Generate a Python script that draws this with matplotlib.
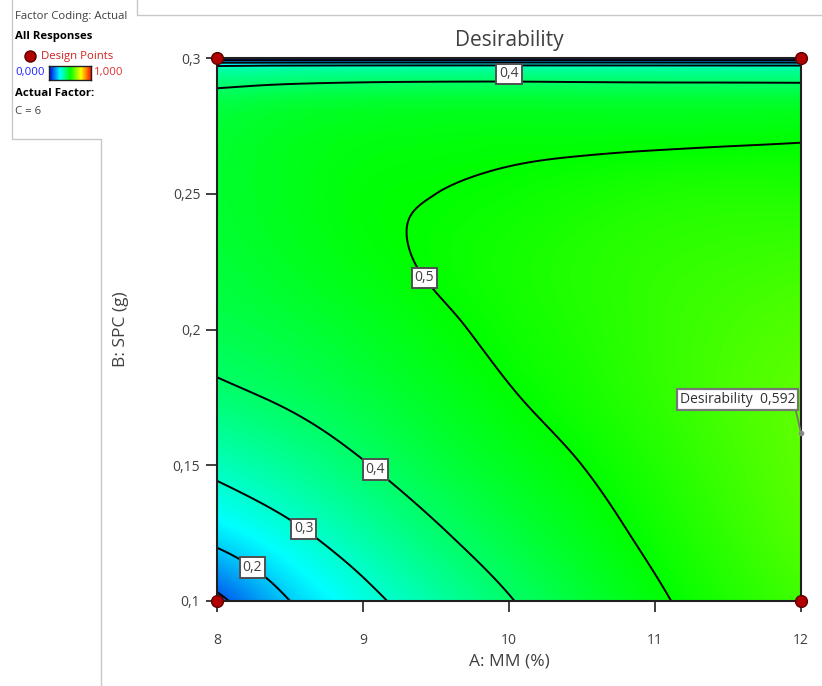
import numpy as np
import matplotlib.pyplot as plt
from matplotlib.colors import LinearSegmentedColormap
from matplotlib.lines import Line2D

plt.rcParams['font.family'] = ['Open Sans', 'DejaVu Sans']

# factor grid: A = MM (%), B = SPC (g), C held at 6
mm = [8, 8.5, 9, 9.5, 10, 10.5, 11, 11.5, 12]
spc = [0.10, 0.125, 0.15, 0.175, 0.20, 0.225, 0.25, 0.275, 0.30]

# desirability, one row per SPC value (before the top cut-off)
desir = [
    [0.080, 0.200, 0.278, 0.340, 0.396, 0.446, 0.491, 0.529, 0.561],  # 0.100
    [0.228, 0.285, 0.340, 0.392, 0.437, 0.476, 0.513, 0.548, 0.581],  # 0.125
    [0.318, 0.355, 0.396, 0.436, 0.470, 0.500, 0.530, 0.561, 0.590],  # 0.150
    [0.386, 0.409, 0.437, 0.467, 0.496, 0.520, 0.545, 0.570, 0.591],  # 0.175
    [0.424, 0.442, 0.465, 0.490, 0.512, 0.530, 0.549, 0.566, 0.580],  # 0.200
    [0.445, 0.466, 0.487, 0.505, 0.519, 0.533, 0.545, 0.553, 0.560],  # 0.225
    [0.455, 0.475, 0.493, 0.500, 0.508, 0.518, 0.527, 0.531, 0.530],  # 0.250
    [0.452, 0.470, 0.480, 0.484, 0.486, 0.485, 0.485, 0.487, 0.490],  # 0.275
    [0.445, 0.455, 0.460, 0.462, 0.462, 0.460, 0.458, 0.456, 0.452],  # 0.300
]

# close to SPC = 0.3 one response leaves its range, desirability drops to 0
spc_top = [0.27, 0.28, 0.285, 0.29, 0.294, 0.2962, 0.2972, 0.2983, 0.2992, 0.30]
top_factor = [1.0, 0.985, 0.95, 0.875, 0.80, 0.74, 0.66, 0.44, 0.22, 0.0]

levels = [0.1, 0.2, 0.3, 0.4, 0.5]
label_pos = [(8.25, 0.113), (8.60, 0.127), (9.09, 0.149), (9.42, 0.219), (10.0, 0.291)]

design_mm = [8, 12, 8, 12]
design_spc = [0.1, 0.1, 0.3, 0.3]

opt_mm, opt_spc, opt_desir = 12, 0.162, 0.592

xticks = [8, 9, 10, 11, 12]
yticks = [0.1, 0.15, 0.2, 0.25, 0.3]
ytick_labels = ['0,1', '0,15', '0,2', '0,25', '0,3']

txt = '#404040'
de_cmap = LinearSegmentedColormap.from_list(
    'de', [(0, '#0000e6'), (0.25, '#00ffff'), (0.5, '#00ff00'),
           (0.75, '#ffff00'), (1, '#ff0000')])


def catmull_rom(vals, t):
    # smooth curve through the grid values along the first axis
    vals = np.asarray(vals, float)
    pad = np.concatenate([2 * vals[:1] - vals[1:2], vals, 2 * vals[-1:] - vals[-2:-1]])
    i = np.clip(np.floor(t).astype(int), 0, len(vals) - 2)
    s = (t - i).reshape((-1,) + (1,) * (vals.ndim - 1))
    p0, p1, p2, p3 = pad[i], pad[i + 1], pad[i + 2], pad[i + 3]
    return 0.5 * (2 * p1 + (p2 - p0) * s
                  + (2 * p0 - 5 * p1 + 4 * p2 - p3) * s ** 2
                  + (3 * p1 - p0 - 3 * p2 + p3) * s ** 3)


nx, ny = len(mm), len(spc)
ty = np.linspace(0, ny - 1, 1000)
tx = np.linspace(0, nx - 1, 600)
G = catmull_rom(catmull_rom(desir, ty).T, tx).T
xf = np.interp(tx, np.arange(nx), mm)
yf = np.interp(ty, np.arange(ny), spc)
Xf, Yf = np.meshgrid(xf, yf)
D = G * np.interp(Yf, spc_top, top_factor)

fig = plt.figure(figsize=(8.22, 6.86), dpi=100)
ax = fig.add_axes([217 / 822, 85 / 686, 584 / 822, 543 / 686])

ax.imshow(D, extent=[mm[0], mm[-1], spc[0], spc[-1]], origin='lower',
          aspect='auto', cmap=de_cmap, vmin=0, vmax=1, interpolation='bilinear')
cs = ax.contour(Xf, Yf, D, levels=levels, colors='black', linewidths=1.4)
labels = ax.clabel(cs, inline=False, manual=label_pos, fontsize=10,
                   fmt=lambda val: f'{val:.1f}'.replace('.', ','), colors=txt)
for t in labels:
    t.set_rotation(0)
    t.set_bbox(dict(boxstyle='square,pad=0.2', fc='white', ec='#505050', lw=1.4))
    t.set_zorder(6)
# the label of the top 0,4 line sits just above it
tx0, ty0 = labels[-1].get_position()
labels[-1].set_position((tx0, ty0 + 0.0028))

ax.plot(design_mm, design_spc, 'o', ms=8.5, mfc='#b00000', mec='#5a0000',
        mew=1, clip_on=False, zorder=10)

ax.plot([opt_mm], [opt_spc], 'o', ms=3, color='#888888', clip_on=False, zorder=9)
ax.annotate(f'Desirability  {opt_desir:.3f}'.replace('.', ','),
            xy=(opt_mm, opt_spc), xytext=(-6, 33), textcoords='offset pixels',
            ha='right', va='center', fontsize=10, color='#303030',
            bbox=dict(boxstyle='square,pad=0.2', fc='white', ec='#777777', lw=1.6),
            arrowprops=dict(arrowstyle='-', color='#777777', lw=1.3,
                            shrinkA=0, shrinkB=0, relpos=(1, 0)),
            annotation_clip=False, zorder=8)

ax.set_xlim(mm[0], mm[-1])
ax.set_ylim(spc[0], spc[-1])
ax.set_xticks(xticks)
ax.set_xticklabels([str(x) for x in xticks])
ax.set_yticks(yticks)
ax.set_yticklabels(ytick_labels)
ax.tick_params(direction='out', length=8, width=1.3, color='#303030',
               labelsize=10, labelcolor=txt, pad=4)
ax.tick_params(axis='x', pad=15)
for s in ax.spines.values():
    s.set_linewidth(1.5)
    s.set_color('#202020')

ax.set_xlabel('A: MM (%)', fontsize=12.5, color=txt, va='center')
ax.xaxis.set_label_coords(0.5, -0.112)
ax.set_ylabel('B: SPC (g)', fontsize=12.5, color=txt, va='center')
ax.yaxis.set_label_coords(-0.164, 0.5)
ax.text(0.5, 1.033, 'Desirability', transform=ax.transAxes, ha='center',
        va='center', fontsize=15, color=txt)

# legend panel, top left
W, H = 822, 686


def fx(px):
    return px / W


def fy(py):
    return 1 - py / H


grey = '#c8c8c8'
for xs, ys in [([12, 12, 101, 101], [0, 139, 139, 686]),
               ([137, 137, 822], [0, 15, 15])]:
    fig.add_artist(Line2D([fx(a) for a in xs], [fy(b) for b in ys],
                          color=grey, lw=1, transform=fig.transFigure))

fs = 8.2
fig.text(fx(15), fy(17), 'Factor Coding: Actual', fontsize=fs, color=txt, va='center')
fig.text(fx(15), fy(37), 'All Responses', fontsize=fs, color='black',
         weight='bold', va='center')
fig.add_artist(Line2D([fx(30)], [fy(56)], marker='o', ms=8, mfc='#b00000',
                      mec='#5a0000', transform=fig.transFigure))
fig.text(fx(41), fy(56), 'Design Points', fontsize=fs, color='#d02020', va='center')
fig.text(fx(15), fy(73), '0,000', fontsize=fs, color='#2020ff', va='center')
fig.text(fx(94), fy(73), '1,000', fontsize=fs, color='#e03030', va='center')
fig.text(fx(15), fy(93), 'Actual Factor:', fontsize=fs, color='black',
         weight='bold', va='center')
fig.text(fx(15), fy(112), 'C = 6', fontsize=fs, color=txt, va='center')

cax = fig.add_axes([fx(49), fy(80), 42 / W, 14 / H])
cax.imshow(np.linspace(0, 1, 100)[None, :], cmap=de_cmap, aspect='auto')
cax.set_xticks([])
cax.set_yticks([])
for s in cax.spines.values():
    s.set_color('#202020')
    s.set_linewidth(1)

fig.savefig('out.png', dpi=100)
